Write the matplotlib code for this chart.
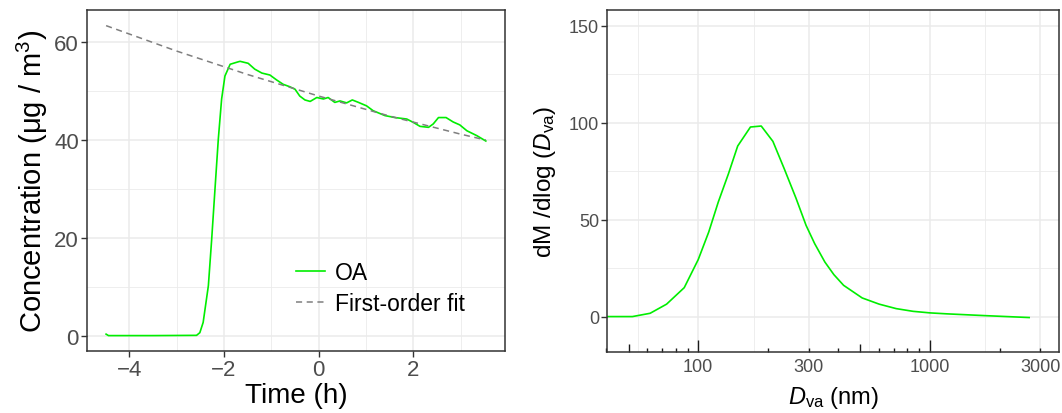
import matplotlib
matplotlib.use("Agg")
import matplotlib.pyplot as plt
import numpy as np

plt.rcParams['font.family'] = ['Liberation Sans', 'DejaVu Sans']
plt.rcParams['mathtext.fontset'] = 'custom'
plt.rcParams['mathtext.rm'] = 'Liberation Sans'
plt.rcParams['mathtext.it'] = 'Liberation Sans:italic'

# OA time series (h, ug/m3)
time_h = [-4.49, -4.44, -3.5, -2.58, -2.51, -2.44, -2.33, -2.26, -2.19, -2.12,
          -2.05, -1.98, -1.87, -1.70, -1.66, -1.49, -1.35, -1.20, -1.03, -0.89,
          -0.75, -0.61, -0.50, -0.40, -0.29, -0.18, -0.04, 0.10, 0.20, 0.34,
          0.45, 0.59, 0.71, 0.84, 1.01, 1.15, 1.40, 1.61, 1.86, 2.00,
          2.14, 2.32, 2.42, 2.53, 2.69, 2.84, 2.98, 3.13, 3.34, 3.53]
oa_conc = [0.3, 0.0, 0.0, 0.05, 0.6, 2.7, 10.2, 19.7, 30.0, 40.2,
           48.4, 53.1, 55.5, 56.0, 56.1, 55.7, 54.5, 53.7, 53.3, 52.3,
           51.4, 50.9, 50.4, 49.0, 48.2, 47.9, 48.7, 48.4, 48.7, 47.7,
           48.0, 47.6, 48.2, 47.7, 47.0, 46.0, 45.0, 44.6, 44.3, 43.6,
           42.8, 42.6, 43.3, 44.6, 44.6, 43.7, 43.1, 41.9, 40.9, 39.8]

# first-order decay fit
fit_time = [-4.49, -3.0, -1.5, 0.0, 1.5, 3.0, 3.53]
fit_conc = [63.4, 58.2, 53.4, 49.0, 44.9, 41.2, 40.0]

# mass size distribution
dva_nm = [40, 52, 62, 73, 87, 100, 111, 122, 135, 148, 168, 187, 210, 235,
          264, 292, 318, 352, 385, 424, 510, 604, 715, 846, 1000, 1185, 1718, 2680]
dm_dlog = [0.0, 0.0, 1.7, 6.4, 14.9, 29.4, 43.6, 59.0, 73.6, 87.9, 97.7, 98.2,
           90.3, 76.2, 61.1, 47.0, 37.6, 28.1, 21.6, 16.1, 9.6, 6.4, 4.1, 2.7,
           1.9, 1.4, 0.5, -0.5]
size_breaks = [100, 300, 1000, 3000]

green = '#00ee00'
grid_col = '#ebebeb'
border_col = '#333333'
tick_lab = '#4d4d4d'

fig = plt.figure(figsize=(10.62, 4.14), dpi=100)
ax1 = fig.add_axes([87.3 / 1062, 1 - 352 / 414, (505 - 87.3) / 1062, 341 / 414])
ax2 = fig.add_axes([607.3 / 1062, 1 - 352.5 / 414, (1059 - 607.3) / 1062, 341.5 / 414])


def bw_style(ax):
    ax.set_axisbelow(True)
    for s in ax.spines.values():
        s.set_color(border_col)
        s.set_linewidth(1.1)
    ax.grid(which='major', color=grid_col, lw=1.1)
    ax.grid(which='minor', color=grid_col, lw=0.6)


# left: time series
ax1.plot(time_h, oa_conc, color=green, lw=1.2, label='OA')
ax1.plot(fit_time, fit_conc, color='#7f7f7f', lw=1.1, ls=(0, (4, 3)), label='First-order fit')
ax1.set_xlim(-4.887, 3.935)
ax1.set_ylim(-3.15, 66.6)
ax1.set_xticks([-4, -2, 0, 2])
ax1.set_xticklabels(['\u22124', '\u22122', '0', '2'])
ax1.set_xticks([-3, -1, 1, 3], minor=True)
ax1.set_yticks([0, 20, 40, 60])
ax1.set_yticks([10, 30, 50], minor=True)
bw_style(ax1)
ax1.tick_params(which='major', length=4, width=1.0, color=border_col,
                labelsize=16, labelcolor=tick_lab, pad=2)
ax1.tick_params(which='minor', length=0)
ax1.set_xlabel('Time (h)', fontsize=20, labelpad=1)
ax1.set_ylabel('Concentration (\u03bcg / m$^{3}$)', fontsize=21, labelpad=3)
ax1.legend(loc='upper left', bbox_to_anchor=(0.5, 0.265), frameon=False,
           fontsize=16.5, handlelength=1.25, handletextpad=0.45,
           labelspacing=0.36, borderpad=0, borderaxespad=0)

# right: size distribution
ax2.plot(dva_nm, dm_dlog, color=green, lw=1.2)
ax2.set_xscale('log')
ax2.set_xlim(40.5, 3606)
ax2.set_ylim(-18, 158)
ax2.set_xticks(size_breaks)
ax2.set_xticklabels([str(b) for b in size_breaks])
minor_x = [np.sqrt(a * b) for a, b in zip([30] + size_breaks[:-1], size_breaks)]
ax2.set_xticks(minor_x, minor=True)
ax2.set_yticks([0, 50, 100, 150])
ax2.set_yticks([25, 75, 125], minor=True)
bw_style(ax2)
ax2.tick_params(axis='x', which='major', length=0, labelsize=13,
                labelcolor=tick_lab, pad=5)
ax2.tick_params(axis='y', which='major', length=4, width=1.0, color=border_col,
                labelsize=13, labelcolor=tick_lab, pad=2)
ax2.tick_params(which='minor', length=0)

# log ticks along the bottom, inside the panel
trans = ax2.get_xaxis_transform()
for dec in [10, 100, 1000]:
    for m in range(1, 10):
        v = m * dec
        if v < 40 or v > 3600:
            continue
        if m == 1:
            h = 0.034
        elif m == 5:
            h = 0.023
        else:
            h = 0.011
        ax2.plot([v, v], [0, h], transform=trans, color='#1a1a1a', lw=1.0,
                 clip_on=False, solid_capstyle='butt')

ax2.set_xlabel('$\\mathit{D}_{\\mathrm{va}}$ (nm)', fontsize=17, labelpad=6)
ax2.set_ylabel('dM /dlog ($\\mathit{D}_{\\mathrm{va}}$)', fontsize=17.5, labelpad=8)

fig.savefig('out.png', dpi=100)
